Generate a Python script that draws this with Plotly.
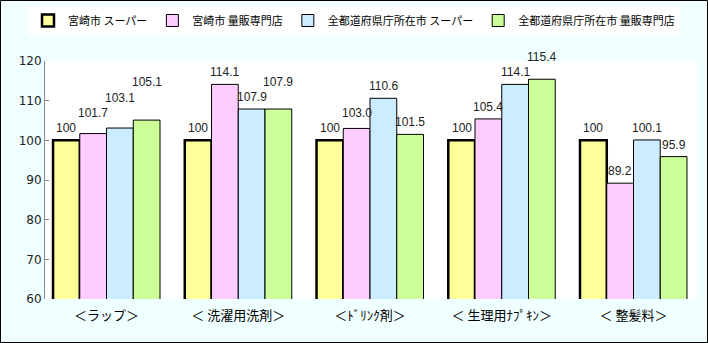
import plotly.graph_objects as go

categories = ["＜ラップ＞", "＜ 洗濯用洗剤＞", "＜ﾄﾞﾘﾝｸ剤＞", "＜ 生理用ﾅﾌﾟｷﾝ＞", "＜ 整髪料＞"]
series_names = ["宮崎市 スーパー", "宮崎市 量販専門店", "全都道府県庁所在市 スーパー", "全都道府県庁所在市 量販専門店"]
miyazaki_super = [100, 100, 100, 100, 100]
miyazaki_ryohan = [101.7, 114.1, 103.0, 105.4, 89.2]
zenkoku_super = [103.1, 107.9, 110.6, 114.1, 100.1]
zenkoku_ryohan = [105.1, 107.9, 101.5, 115.4, 95.9]
labels = [
    ["100", "100", "100", "100", "100"],
    ["101.7", "114.1", "103.0", "105.4", "89.2"],
    ["103.1", "107.9", "110.6", "114.1", "100.1"],
    ["105.1", "107.9", "101.5", "115.4", "95.9"],
]
colors = ["#FFFF99", "#FFCCFF", "#CCECFF", "#CCFF99"]
line_widths = [2.5, 1, 1, 1]

W, H = 708, 343
ML, MR, MT, MB = 45, 11, 61, 44
PW, PH = W - ML - MR, H - MT - MB
XRANGE = [-0.467, 4.482]
YRANGE = [60, 120]
BARGAP = 0.188
LABEL_FS = 12

all_series = [miyazaki_super, miyazaki_ryohan, zenkoku_super, zenkoku_ryohan]

fig = go.Figure()
for name, vals, col, lw in zip(series_names, all_series, colors, line_widths):
    fig.add_trace(go.Bar(
        x=categories, y=vals, name=name,
        marker=dict(color=col, line=dict(color="black", width=lw)),
    ))

# data labels: placed above each bar, raised when they would collide with the left neighbour
px_per_x = PW / (XRANGE[1] - XRANGE[0])
px_per_y = PH / (YRANGE[1] - YRANGE[0])
nser = len(all_series)
bw = (1 - BARGAP) / nser


def text_w(s):
    return sum(0.278 * LABEL_FS if c == "." else 0.556 * LABEL_FS for c in s)


text_h = LABEL_FS * 1.2
for ci in range(len(categories)):
    prev = None
    for si in range(nser):
        xoff = (si - (nser - 1) / 2) * bw
        val = all_series[si][ci]
        txt = labels[si][ci]
        w = text_w(txt)
        xc = (ci + xoff) * px_per_x
        bottom = (val - YRANGE[0]) * px_per_y + 4
        if prev is not None:
            pxc, pw, pb, pt = prev
            hover = abs(xc - pxc) < (w + pw) / 2 + 2
            vover = bottom < pt and bottom + text_h > pb
            if hover and vover:
                bottom = pt + 1
        prev = (xc, w, bottom, bottom + text_h)
        shift = bottom - (val - YRANGE[0]) * px_per_y
        fig.add_annotation(
            x=ci + xoff, y=val, xref="x", yref="y", text=txt, showarrow=False,
            yanchor="bottom", yshift=shift, borderpad=0,
            font=dict(size=LABEL_FS, family="Liberation Sans", color="#222222"),
        )

fig.update_layout(
    width=W, height=H,
    margin=dict(l=ML, r=MR, t=MT, b=MB),
    paper_bgcolor="#F0FFFF",
    plot_bgcolor="white",
    barmode="group",
    bargap=BARGAP,
    bargroupgap=0,
    font=dict(family="Noto Sans CJK JP", size=12, color="black"),
    showlegend=True,
    legend=dict(
        orientation="h", xref="container", yref="container",
        x=0.5, xanchor="center", y=1 - 6 / H, yanchor="top",
        bgcolor="white", font=dict(size=11, family="Noto Sans CJK JP"),
        itemwidth=30, tracegroupgap=0, traceorder="normal",
    ),
    xaxis=dict(
        type="category", range=XRANGE, showline=False, ticks="",
        tickfont=dict(size=13, family="Noto Sans CJK JP", color="black"),
        showgrid=False, ticklabelstandoff=7,
    ),
    yaxis=dict(
        range=YRANGE, dtick=10, showgrid=False, showline=True, linecolor="#888888",
        linewidth=1, ticks="inside", ticklen=4, tickcolor="#888888",
        tickfont=dict(size=12, family="DejaVu Sans", color="#222222"),
        zeroline=False,
    ),
)

fig.add_shape(type="rect", xref="paper", yref="paper",
              x0=(0.5 - ML) / PW, x1=(W - 0.5 - ML) / PW,
              y0=1 - (H - 0.5 - MT) / PH, y1=1 - (0.5 - MT) / PH,
              line=dict(color="black", width=1), fillcolor="rgba(0,0,0,0)", layer="above")

fig.write_html("out.html")
